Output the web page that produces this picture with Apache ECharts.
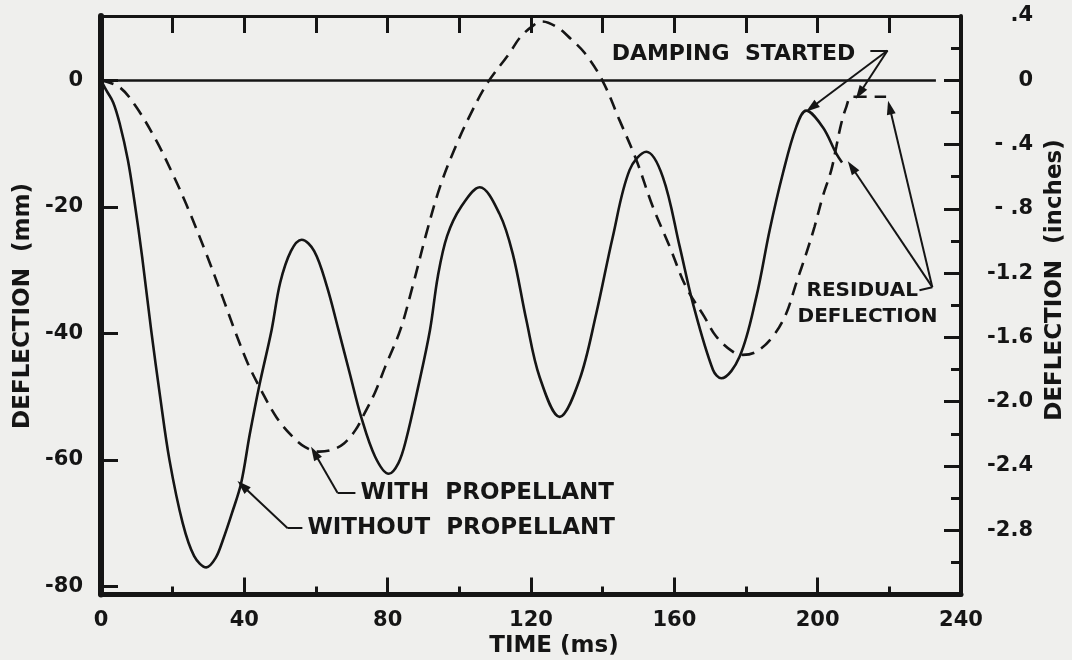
<!DOCTYPE html>
<html><head><meta charset="utf-8">
<script src="https://cdn.jsdelivr.net/npm/echarts@6/dist/echarts.min.js"></script>
<style>html,body{margin:0;padding:0;background:#efefed}#c{width:1072px;height:660px}</style>
</head><body><div id="c"></div>
<script>
// ---- data (time in ms, deflection in mm) ----
const timeWithout = [0,1.5,3.4,5.2,7.5,9.3,11.5,14,16.5,19.1,22.8,26,29.4,32,34,36.5,39.1,41.5,44.2,47.6,50,53,56,59.5,63,66.3,69.5,72.6,76.5,80.3,83,85.1,88.5,91.8,94,96.6,100.5,105.7,111.2,114.9,118.7,122.4,128,133.5,138.2,142.8,147.5,152.2,156.8,161.5,165.2,170.8,173.1,178.2,182.9,186.6,190.3,194,196.8,201.4,205.2,206.8];
const defWithout  = [0,-1.6,-3.5,-6.8,-12.6,-19,-28,-39.5,-50,-60,-70,-75.2,-77,-75.5,-72.7,-68.5,-63.7,-56,-48.2,-39.5,-32,-27,-25.2,-27,-32.5,-39.5,-46.5,-53.2,-59.5,-62.2,-60.5,-56.9,-48.5,-39.5,-31,-24.6,-20,-16.9,-21.1,-27.4,-37.9,-46.9,-53.2,-47.4,-36.9,-24.8,-14.2,-11.3,-15.3,-26.3,-35.3,-45.8,-47.1,-43.7,-34.2,-23.7,-14.7,-7.4,-4.8,-7.4,-11.6,-13];
const timeWith = [0,5.2,9.8,15.4,20,23.8,29.3,34,37.5,41,44.7,49,53.4,57,61,64.5,67.8,71,73.5,76.5,79.3,83.5,87,90.8,94.5,98.5,103,108,113.9,117,120.5,123,127.3,131,135,139.9,144.7,149.4,154,158.7,163.3,168.4,171.7,176.3,179.1,182.9,187.5,191.2,194,196.8,199.1,201.4,203.8,205.2,206.6,208,209.4,214,219.1];
const defWith  = [0,-1.1,-4.2,-9.5,-14.8,-19.6,-27.3,-34.4,-39.8,-44.8,-49,-53.3,-56.3,-58,-58.7,-58.4,-57.4,-55.3,-52.7,-49.3,-45.3,-39.5,-32.5,-24.2,-17,-11.1,-5.5,-0.3,4.2,6.8,8.6,9.3,8.4,6.6,4.3,0,-6.3,-12.6,-20,-26.3,-32.7,-37.4,-40.5,-42.9,-43.4,-42.9,-40.5,-36.9,-32.1,-27.4,-23.2,-18.4,-14.2,-10.5,-6.8,-4.2,-2.6,-2.6,-2.6];
const leftTickValues = [-80,-60,-40,-20,0];
const rightLabelValues = [0.4,0,-0.4,-0.8,-1.2,-1.6,-2.0,-2.4,-2.8];
const rightLabelTexts  = ['.4','0','- .4','- .8','-1.2','-1.6','-2.0','-2.4','-2.8'];
const seriesNames = ['WITHOUT PROPELLANT','WITH PROPELLANT'];

// ---- annotations (in data coordinates) ----
const annoLines = [
  {from:[0,0], to:[233,0], arrow:false, w:2.6},
  {from:[214.7,4.7], to:[219.5,4.7], arrow:false},
  {from:[219.5,4.7], to:[198.3,-4.3], arrow:true},
  {from:[219.5,4.7], to:[211.7,-2.05], arrow:true},
  {from:[228.4,-33.2], to:[232,-32.7], arrow:false},
  {from:[232,-32.7], to:[220.1,-4.3], arrow:true},
  {from:[232,-32.7], to:[209.5,-13.7], arrow:true},
  {from:[71,-65.2], to:[66,-65.2], arrow:false},
  {from:[66,-65.2], to:[59.6,-58.9], arrow:true},
  {from:[56.2,-70.8], to:[52.1,-70.8], arrow:false},
  {from:[52.1,-70.8], to:[39.5,-64.1], arrow:true}
];
const annoTexts = [
  {text:'DAMPING  STARTED', at:[142.5,4.1], size:22},
  {text:'RESIDUAL', at:[196.9,-33.2], size:20},
  {text:'DEFLECTION', at:[194.4,-37.4], size:20},
  {text:'WITH  PROPELLANT', at:[72.4,-65.2], size:23},
  {text:'WITHOUT  PROPELLANT', at:[57.6,-70.8], size:23}
];

const INK = '#151515';
const FONT = 'DejaVu Sans';
const chart = echarts.init(document.getElementById('c'), null, {renderer:'canvas'});

const markLineData = annoLines.map(a => [
  {coord:a.from, symbol:'none', lineStyle:{width:a.w||2, color:INK, type:'solid'}},
  {coord:a.to, symbol:a.arrow?'triangle':'none', symbolSize:[9,14]}
]);

const option = {
  backgroundColor:'#efefed',
  animation:false,
  grid:{left:101, right:111, top:16, bottom:65.5},
  xAxis:[
    {type:'value', position:'bottom', min:0, max:240, interval:40,
     axisLine:{onZero:false, lineStyle:{color:INK, width:5}},
     axisTick:{inside:true, length:17, lineStyle:{color:INK, width:3}},
     minorTick:{show:true, splitNumber:2, length:8, lineStyle:{color:INK, width:3}},
     axisLabel:{color:INK, fontFamily:FONT, fontWeight:'bold', fontSize:21, margin:16},
     splitLine:{show:false}},
    {type:'value', position:'top', min:0, max:240, interval:20,
     axisLine:{onZero:false, lineStyle:{color:INK, width:3}},
     axisTick:{inside:true, length:17, lineStyle:{color:INK, width:3}},
     axisLabel:{show:false}, splitLine:{show:false}}
  ],
  yAxis:[
    {type:'value', position:'left', min:-81.28, max:10.16,
     axisLine:{onZero:false, lineStyle:{color:INK, width:6}},
     axisTick:{inside:true, length:17, customValues:leftTickValues, lineStyle:{color:INK, width:3}},
     axisLabel:{customValues:leftTickValues, color:INK, fontFamily:FONT, fontWeight:'bold', fontSize:21, margin:18,
                formatter:v => String(Math.round(v))},
     splitLine:{show:false}},
    {type:'value', position:'right', min:-3.2, max:0.4, interval:0.4,
     axisLine:{onZero:false, lineStyle:{color:INK, width:4}},
     axisTick:{inside:true, length:17, lineStyle:{color:INK, width:3}},
     minorTick:{show:true, splitNumber:2, length:10, lineStyle:{color:INK, width:3}},
     axisLabel:{color:INK, fontFamily:FONT, fontWeight:'bold', fontSize:21, margin:72, align:'right',
                formatter:v => { const i = rightLabelValues.findIndex(r => Math.abs(r - v) < 1e-6); return i < 0 ? '' : rightLabelTexts[i]; }},
     splitLine:{show:false}}
  ],
  series:[
    {name:seriesNames[0], type:'line', xAxisIndex:0, yAxisIndex:0, smooth:0.35, showSymbol:false,
     data:timeWithout.map((t,i)=>[t, defWithout[i]]),
     lineStyle:{color:INK, width:2.6},
     markLine:{silent:true, animation:false, label:{show:false}, symbol:['none','none'], data:markLineData}},
    {name:seriesNames[1], type:'line', xAxisIndex:0, yAxisIndex:0, smooth:0.35, showSymbol:false,
     data:timeWith.map((t,i)=>[t, defWith[i]]),
     lineStyle:{color:INK, width:2.6, type:[13,8]}}
  ]
};
chart.setOption(option);

const px = p => chart.convertToPixel({xAxisIndex:0, yAxisIndex:0}, p);
const graphics = annoTexts.map(a => {
  const p = px(a.at);
  return {type:'text', x:p[0], y:p[1], silent:true,
          style:{text:a.text, fill:INK, font:'bold '+a.size+'px "'+FONT+'"', align:'left', verticalAlign:'middle'}};
});
// axis titles
graphics.push({type:'text', x:554, y:646, silent:true,
  style:{text:'TIME (ms)', fill:INK, font:'bold 23px "'+FONT+'"', align:'center', verticalAlign:'middle'}});
graphics.push({type:'text', x:23, y:306, rotation:Math.PI/2, silent:true,
  style:{text:'DEFLECTION  (mm)', fill:INK, font:'bold 23px "'+FONT+'"', align:'center', verticalAlign:'middle'}});
graphics.push({type:'text', x:1055, y:280, rotation:Math.PI/2, silent:true,
  style:{text:'DEFLECTION  (inches)', fill:INK, font:'bold 23px "'+FONT+'"', align:'center', verticalAlign:'middle'}});
chart.setOption({graphic:graphics});
</script>
</body></html>
